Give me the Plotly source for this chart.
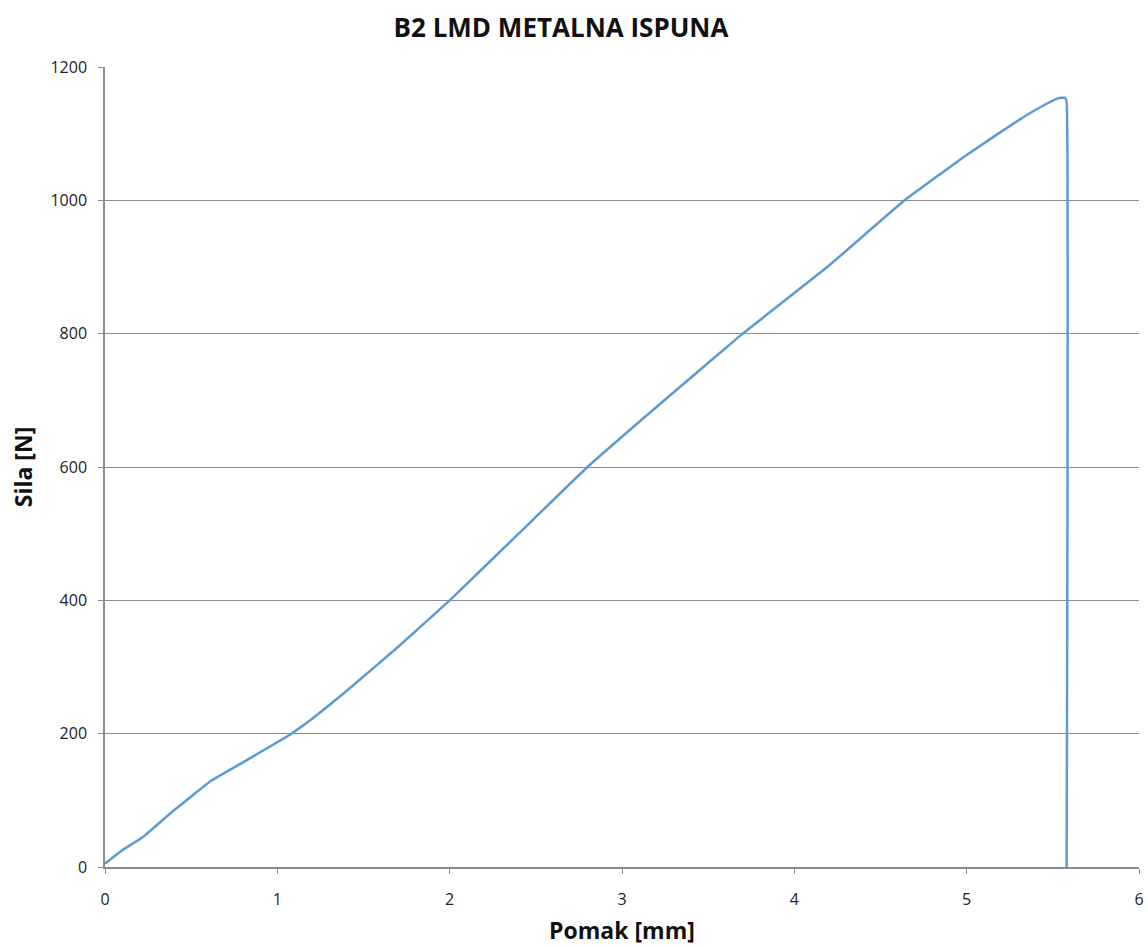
import plotly.graph_objects as go

# Force-displacement curve
pomak_mm = [0, 0.1, 0.22, 0.4, 0.62, 0.8, 1.07, 1.2, 1.42, 1.7, 2.0, 2.4, 2.8,
            3.2, 3.7, 4.2, 4.64, 5.0, 5.3, 5.45, 5.53, 5.57, 5.58, 5.58]
sila_n = [5, 25, 45, 85, 130, 157, 198, 222, 268, 330, 400, 500, 600,
          690, 800, 902, 1000, 1068, 1120, 1143, 1153, 1154, 1148, 0]

x_ticks = [0, 1, 2, 3, 4, 5, 6]
y_ticks = [0, 200, 400, 600, 800, 1000, 1200]

fig = go.Figure()
fig.add_trace(go.Scatter(x=pomak_mm, y=sila_n, mode='lines',
                         line=dict(color='#5b9bd5', width=2.5, shape='spline', smoothing=0.3)))

fig.update_layout(
    width=1148, height=947,
    paper_bgcolor='white', plot_bgcolor='white',
    margin=dict(l=105, r=9, t=67, b=80),
    showlegend=False,
    font=dict(family='Open Sans', color='#222'),
    title=dict(text='<b>B2 LMD METALNA ISPUNA</b>', x=0.4887, xanchor='center',
               y=0.9704, yanchor='middle', font=dict(size=26, color='#111')),
)
fig.update_xaxes(
    range=[0, 6], tickvals=x_ticks, showgrid=False, zeroline=False, automargin=False,
    showline=True, linecolor='#8c8c8c', linewidth=1.5,
    ticks='outside', ticklen=5, tickcolor='#8c8c8c', ticklabelstandoff=12,
    ticklabeloverflow='allow',
    tickfont=dict(size=16, color='#222'),
    title=dict(text='<b>Pomak [mm]</b>', font=dict(size=23, color='#111'), standoff=14),
)
fig.update_yaxes(
    range=[0, 1200], tickvals=y_ticks, showgrid=True, gridcolor='#8c8c8c', gridwidth=1,
    zeroline=False, showline=True, linecolor='#8c8c8c', linewidth=1.5, automargin=False,
    ticks='outside', ticklen=5, tickcolor='#8c8c8c', ticklabelstandoff=8,
    tickfont=dict(size=16, color='#222'),
    title=dict(text='<b>Sila [N]</b>', font=dict(size=23, color='#111'), standoff=11),
)

# drop the default 8px page margin so the figure fills the window
fig.write_html("out.html", config={'displayModeBar': False},
               post_script="document.body.style.margin='0';")
